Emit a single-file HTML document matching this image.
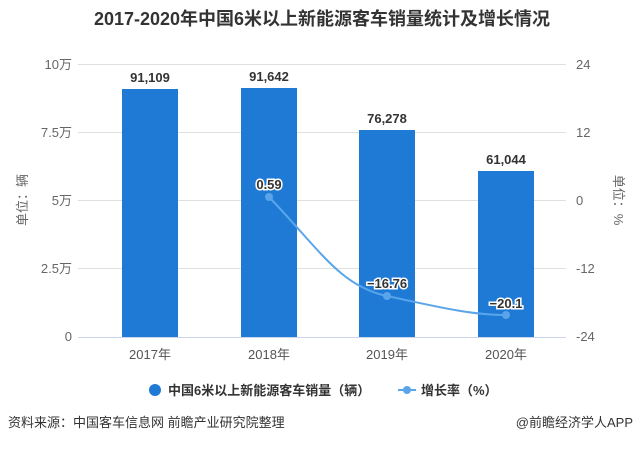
<!DOCTYPE html>
<html><head><meta charset="utf-8"><style>
body{margin:0;background:#fff;width:640px;height:446px;overflow:hidden;font-family:"Liberation Sans","Noto Sans CJK SC",sans-serif;}
</style></head><body>
<svg width="640" height="446" xmlns="http://www.w3.org/2000/svg" font-family="Liberation Sans, Noto Sans CJK SC, sans-serif">
<text x="322" y="25" text-anchor="middle" font-size="18" font-weight="bold" fill="#333">2017-2020年中国6米以上新能源客车销量统计及增长情况</text>
<g stroke="#e0e0e0" stroke-width="1">
<line x1="78" y1="64.5" x2="566" y2="64.5"/>
<line x1="78" y1="132.5" x2="566" y2="132.5"/>
<line x1="78" y1="200.5" x2="566" y2="200.5"/>
<line x1="78" y1="268.5" x2="566" y2="268.5"/>
</g>
<line x1="78" y1="337.5" x2="566" y2="337.5" stroke="#ccd6eb"/>
<g font-size="13" fill="#666" text-anchor="end">
<text x="72" y="69">10万</text><text x="72" y="137">7.5万</text><text x="72" y="205">5万</text><text x="72" y="273">2.5万</text><text x="72" y="341">0</text>
</g>
<g font-size="13" fill="#666" text-anchor="start">
<text x="576" y="69">24</text><text x="576" y="137">12</text><text x="576" y="205">0</text><text x="576" y="273">-12</text><text x="576" y="341">-24</text>
</g>
<text transform="translate(27,200) rotate(-90)" font-size="13" fill="#666" text-anchor="middle">单位：辆</text>
<text transform="translate(614,200) rotate(90)" font-size="13" fill="#666" text-anchor="middle">单位：%</text>
<g fill="#1f7ad6">
<rect x="122" y="89" width="56" height="248"/>
<rect x="241" y="88" width="56" height="249"/>
<rect x="359" y="130" width="56" height="207"/>
<rect x="478" y="171" width="56" height="166"/>
</g>
<g font-size="13" font-weight="bold" fill="#333" text-anchor="middle">
<text x="150" y="82">91,109</text><text x="269" y="81">91,642</text><text x="387" y="123">76,278</text><text x="506" y="164">61,044</text>
</g>
<g font-size="13" text-anchor="middle" fill="#555">
<text x="150" y="359">2017年</text><text x="269" y="359">2018年</text><text x="387" y="359">2019年</text><text x="506" y="359">2020年</text>
</g>
<path d="M269 197 C 320 250, 340 286, 387 296 S 470 315, 506 315" fill="none" stroke="#5aa5ea" stroke-width="2"/>
<g fill="#5aa5ea"><circle cx="269" cy="197" r="4"/><circle cx="387" cy="296" r="4"/><circle cx="506" cy="315" r="4"/></g>
<g font-size="13" font-weight="bold" fill="#333" text-anchor="middle" stroke="#fff" stroke-width="3" paint-order="stroke">
<text x="269" y="189">0.59</text><text x="387" y="288">−16.76</text><text x="506" y="308">−20.1</text>
</g>
<circle cx="155" cy="390" r="6" fill="#1f7ad6"/>
<text x="168" y="395" font-size="13" font-weight="bold" fill="#333">中国6米以上新能源客车销量（辆）</text>
<line x1="398" y1="390" x2="416" y2="390" stroke="#5aa5ea" stroke-width="2"/>
<circle cx="407" cy="390" r="4" fill="#5aa5ea"/>
<text x="421" y="395" font-size="13" font-weight="bold" fill="#333">增长率（%）</text>
<text x="8" y="427" font-size="13" fill="#333">资料来源：中国客车信息网 前瞻产业研究院整理</text>
<text x="633" y="427" font-size="13" fill="#333" text-anchor="end">@前瞻经济学人APP</text>
</svg>
</body></html>
